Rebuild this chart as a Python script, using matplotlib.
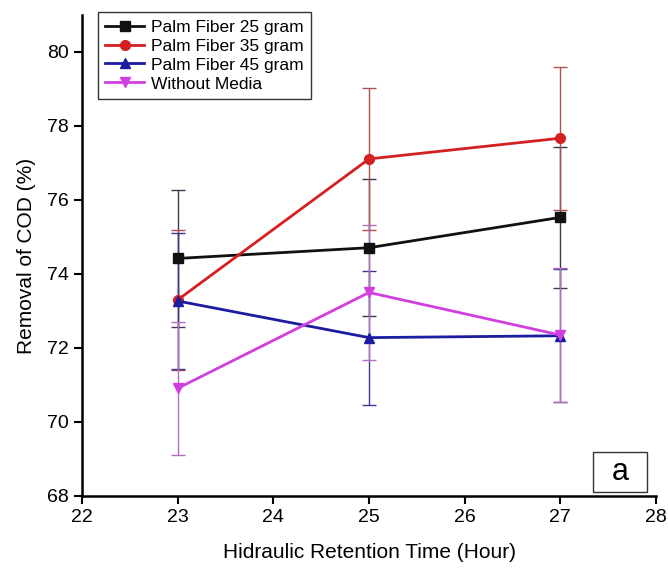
import matplotlib
matplotlib.use('Agg')
import matplotlib.pyplot as plt
from matplotlib.patches import Rectangle

plt.rcParams['font.family'] = ['Liberation Sans', 'DejaVu Sans']

# Hydraulic retention time (hour)
hrt = [23, 25, 27]

# Removal of COD (%) and standard deviations
fiber_25 = [74.42, 74.71, 75.53]
fiber_25_err = [1.85, 1.85, 1.90]
fiber_35 = [73.30, 77.11, 77.67]
fiber_35_err = [1.90, 1.92, 1.93]
fiber_45 = [73.27, 72.28, 72.33]
fiber_45_err = [1.83, 1.81, 1.80]
no_media = [70.91, 73.50, 72.35]
no_media_err = [1.80, 1.82, 1.80]

labels = ['Palm Fiber 25 gram', 'Palm Fiber 35 gram', 'Palm Fiber 45 gram', 'Without Media']
series = [fiber_25, fiber_35, fiber_45, no_media]
errors = [fiber_25_err, fiber_35_err, fiber_45_err, no_media_err]
colors = ['#111111', '#d42020', '#1c1ca0', '#d040e0']
err_colors = ['#3a3a50', '#b05050', '#3a3a90', '#b070c0']
markers = ['s', 'o', '^', 'v']

fig = plt.figure(figsize=(6.68, 5.68), dpi=100)
ax = fig.add_axes([0.1228, 0.1268, 0.8592, 0.8468])

handles = []
for y, e, c, ec, m, lab in zip(series, errors, colors, err_colors, markers, labels):
    cont = ax.errorbar(hrt, y, yerr=e, color=c, ecolor=ec, elinewidth=1.0, capsize=5,
                       capthick=1.0, marker=m, markersize=7, linewidth=2.0, label=lab)
    handles.append(cont[0])

ax.set_xlim(22, 28)
ax.set_ylim(68, 81)
ax.set_xticks(range(22, 29))
ax.set_yticks(range(68, 81, 2))
ax.spines['top'].set_visible(False)
ax.spines['right'].set_visible(False)
ax.spines['left'].set_linewidth(1.8)
ax.spines['bottom'].set_linewidth(1.8)
ax.tick_params(direction='out', length=6, width=1.5, labelsize=14)

ax.set_xlabel('Hidraulic Retention Time (Hour)', fontsize=15, labelpad=12)
ax.set_ylabel('Removal of COD (%)', fontsize=15, labelpad=8)

leg = ax.legend(handles, labels, loc='upper left', bbox_to_anchor=(0.012, 1.025),
                fontsize=12.5, frameon=True, fancybox=False, edgecolor='black',
                handlelength=2.2, handletextpad=0.4, borderpad=0.45, labelspacing=0.22)
leg.get_frame().set_linewidth(1.0)

# panel label box
ax.add_patch(Rectangle((0.890, 0.008), 0.094, 0.083, transform=ax.transAxes,
                       facecolor='white', edgecolor='#333333', linewidth=1.0,
                       clip_on=False, zorder=5))
ax.text(0.937, 0.05, 'a', transform=ax.transAxes, fontsize=22,
        ha='center', va='center', zorder=6)

fig.savefig('out.png', dpi=100)
